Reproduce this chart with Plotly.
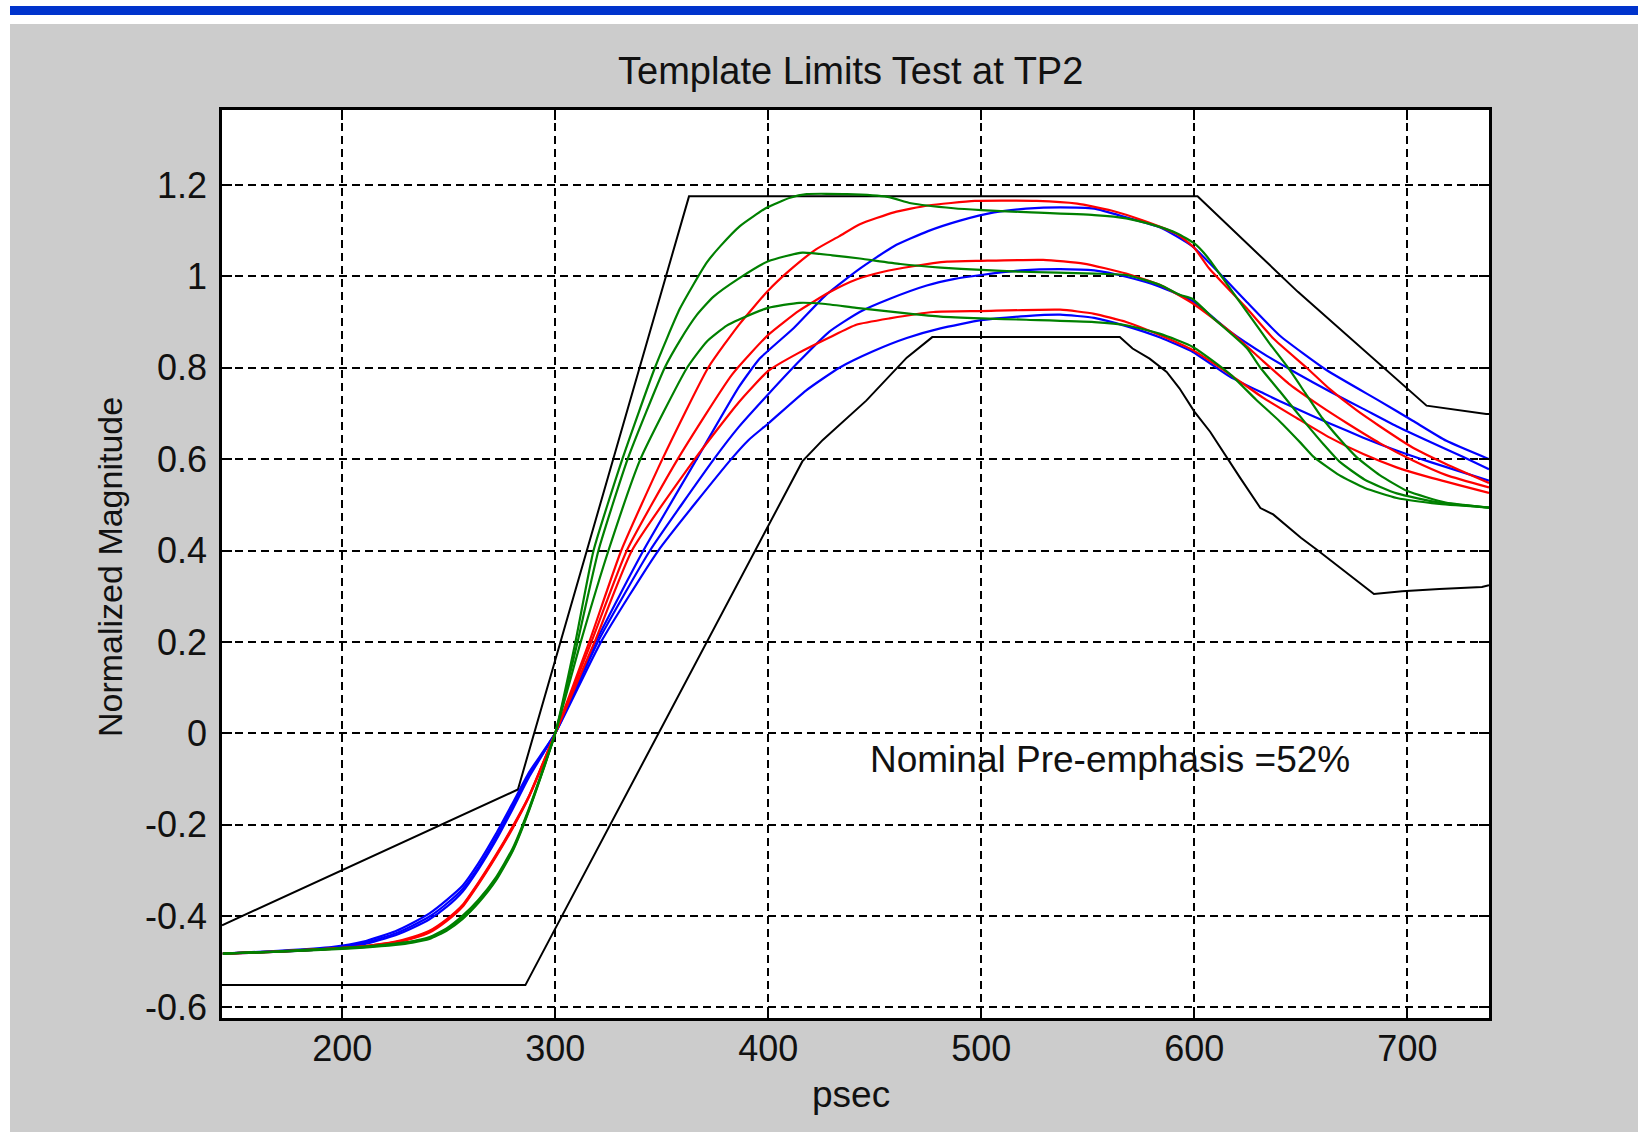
import plotly.graph_objects as go

# ---------------- data ----------------
UPPER_X = [143.6, 282.5, 362.8, 601.5, 648.6, 709.0, 737.0, 738.3]
UPPER_Y = [-0.42, -0.123, 1.175, 1.175, 0.966, 0.717, 0.699, 0.699]

LOWER_X = [143.6, 286, 416, 425.6, 446, 465, 477, 565, 571, 579, 587, 593, 600, 607.4,
           621.5, 631, 637, 650, 658, 684.3, 697.5, 715, 735, 738.3]
LOWER_Y = [-0.551, -0.551, 0.595, 0.642, 0.728, 0.822, 0.867, 0.867, 0.842, 0.82, 0.791, 0.755,
           0.704, 0.66, 0.559, 0.493, 0.479, 0.428, 0.40, 0.305, 0.311, 0.316, 0.32, 0.324]

G1_X = [144, 170, 195, 210, 225, 233, 241, 249, 256.6, 264, 272.2, 280, 287.8, 300, 309.5, 318,
        331.5, 346.8, 358.6, 371.1, 377.3, 386.7, 399.2, 410.2, 418, 437, 456, 467, 487, 500,
        518, 553, 568, 581, 592, 600, 606, 615, 625, 635, 644, 652, 660, 668, 676, 687, 700,
        718, 738.3]
G1_Y = [-0.482, -0.478, -0.473, -0.469, -0.463, -0.458, -0.45, -0.432, -0.406, -0.371, -0.322,
        -0.258, -0.168, 0.0, 0.2, 0.4, 0.6, 0.8, 0.93, 1.03, 1.065, 1.11, 1.15, 1.172, 1.18, 1.18,
        1.174, 1.16, 1.149, 1.145, 1.141, 1.134, 1.127, 1.112, 1.094, 1.072, 1.043, 0.985, 0.92,
        0.855, 0.80, 0.745, 0.69, 0.645, 0.605, 0.565, 0.53, 0.505, 0.494]

G2_X = [144, 170, 195, 210, 225, 233, 241, 249, 256.6, 264, 272.2, 280, 287.8, 300, 310.5,
        320.3, 334, 351.4, 358.6, 366.4, 374.2, 386.1, 400, 416, 430, 443, 462, 481, 500, 518.6,
        553, 568, 584, 593.4, 599, 609, 624.6, 631, 640, 652.7, 660.5, 668, 680, 695, 715, 738.3]
G2_Y = [-0.482, -0.478, -0.472, -0.468, -0.461, -0.456, -0.448, -0.43, -0.403, -0.368, -0.319,
        -0.256, -0.166, 0.0, 0.2, 0.4, 0.6, 0.8, 0.86, 0.915, 0.955, 0.995, 1.033, 1.052, 1.046,
        1.039, 1.027, 1.019, 1.014, 1.01, 1.006, 1.003, 0.981, 0.959, 0.951, 0.908, 0.843, 0.80,
        0.749, 0.676, 0.633, 0.595, 0.555, 0.525, 0.505, 0.494]

G3_X = [144, 170, 195, 210, 225, 233, 241, 249, 256.6, 264, 272.2, 280, 287.8, 300, 312, 325,
        340, 361.9, 371.1, 380.5, 386.1, 400, 414.5, 425.6, 441.3, 465, 480.8, 500, 521, 553,
        568, 584, 599.5, 617, 629, 640, 650, 656, 668, 680, 695, 715, 738.3]
G3_Y = [-0.482, -0.477, -0.471, -0.467, -0.46, -0.455, -0.446, -0.427, -0.399, -0.364, -0.315,
        -0.252, -0.163, 0.0, 0.2, 0.4, 0.6, 0.8, 0.857, 0.892, 0.905, 0.931, 0.942, 0.94, 0.931,
        0.919, 0.912, 0.908, 0.905, 0.900, 0.893, 0.874, 0.845, 0.785, 0.73, 0.683, 0.635, 0.605,
        0.565, 0.537, 0.515, 0.502, 0.494]

R1_X = [144, 170, 195, 210, 225, 233, 241, 249, 256.6, 264, 272.2, 280, 287.8, 300, 316, 331,
        350.3, 371.8, 386.4, 400, 410, 422.4, 433.4, 443, 459, 475, 497, 526, 545, 561, 576, 592,
        600, 607, 624.6, 637.1, 652.7, 663.6, 676.1, 687, 702.6, 718.3, 738.3]
R1_Y = [-0.482, -0.478, -0.472, -0.467, -0.458, -0.449, -0.436, -0.411, -0.379, -0.33, -0.27,
        -0.208, -0.138, 0.0, 0.2, 0.4, 0.6, 0.8, 0.895, 0.969, 1.013, 1.059, 1.088, 1.114, 1.14,
        1.155, 1.165, 1.165, 1.159, 1.144, 1.122, 1.092, 1.062, 1.017, 0.93, 0.864, 0.8, 0.753,
        0.707, 0.672, 0.625, 0.589, 0.548]

R2_X = [144, 170, 195, 210, 225, 233, 241, 249, 256.6, 264, 272.2, 280, 287.8, 300, 317, 333.6,
        357.5, 383, 400, 414.5, 428.7, 441.3, 454, 468, 484, 500, 529, 548, 568, 584, 599.5,
        616.8, 632.4, 644.9, 658.9, 671.5, 687, 702.6, 718.3, 738.3]
R2_Y = [-0.482, -0.478, -0.471, -0.466, -0.457, -0.448, -0.434, -0.409, -0.377, -0.328, -0.268,
        -0.206, -0.137, 0.0, 0.2, 0.4, 0.6, 0.785, 0.872, 0.925, 0.965, 0.993, 1.01, 1.022, 1.032,
        1.034, 1.036, 1.028, 1.006, 0.981, 0.94, 0.879, 0.814, 0.763, 0.717, 0.679, 0.635, 0.597,
        0.565, 0.538]

R3_X = [144, 170, 195, 210, 225, 233, 241, 249, 256.6, 264, 272.2, 280, 287.8, 300, 318.5, 336,
        365.5, 386.1, 400, 414.5, 428.7, 441.3, 457, 477.6, 500, 537, 553, 568, 584, 599.5,
        616.8, 632.4, 648, 663.6, 679.3, 694.9, 710.5, 738.3]
R3_Y = [-0.482, -0.477, -0.471, -0.466, -0.456, -0.446, -0.432, -0.407, -0.375, -0.326, -0.266,
        -0.204, -0.136, 0.0, 0.2, 0.4, 0.6, 0.724, 0.793, 0.833, 0.866, 0.894, 0.908, 0.922, 0.924,
        0.927, 0.918, 0.9, 0.871, 0.838, 0.785, 0.734, 0.69, 0.647, 0.611, 0.582, 0.56, 0.526]

B1_X = [144, 170, 195, 210, 225, 233, 241, 249, 256.6, 264, 272.2, 280, 287.8, 300, 319, 341.4,
        366.4, 386.1, 396, 412, 427, 443, 459, 475, 490, 506, 521, 537, 553, 568, 584, 599,
        624.6, 640.2, 662, 687, 702.5, 718.3, 738.3]
B1_Y = [-0.482, -0.478, -0.471, -0.462, -0.442, -0.426, -0.407, -0.38, -0.346, -0.297, -0.234,
        -0.166, -0.095, 0.0, 0.2, 0.4, 0.6, 0.757, 0.82, 0.887, 0.959, 1.017, 1.066, 1.099, 1.122,
        1.14, 1.148, 1.151, 1.148, 1.129, 1.107, 1.066, 0.944, 0.87, 0.795, 0.727, 0.684, 0.64,
        0.60]

B2_X = [144, 170, 195, 210, 225, 233, 241, 249, 256.6, 264, 272.2, 280, 287.8, 300, 320, 344.5,
        374.5, 386.1, 400, 414.5, 428.7, 442.9, 457.1, 474.4, 487, 500, 518.6, 537, 553, 568,
        584, 599.5, 616.8, 634, 648, 663.6, 679.3, 694.9, 710.5, 726, 738.3]
B2_Y = [-0.482, -0.477, -0.47, -0.459, -0.438, -0.421, -0.401, -0.373, -0.34, -0.292, -0.228,
        -0.16, -0.09, 0.0, 0.2, 0.4, 0.6, 0.67, 0.742, 0.814, 0.879, 0.922, 0.951, 0.98, 0.994,
        1.003, 1.013, 1.016, 1.013, 0.999, 0.977, 0.945, 0.879, 0.826, 0.788, 0.748, 0.71, 0.672,
        0.638, 0.605, 0.578]

B3_X = [144, 170, 195, 210, 225, 233, 241, 249, 256.6, 264, 272.2, 280, 287.8, 300, 321.5, 348.4,
        382.6, 390.8, 400, 417.7, 433.4, 449.2, 465, 480.8, 500, 521, 537, 553, 568, 584, 599.5,
        616.8, 632.4, 648, 663.6, 679.3, 694.9, 710.5, 738.3]
B3_Y = [-0.482, -0.476, -0.468, -0.456, -0.433, -0.415, -0.394, -0.365, -0.333, -0.284, -0.22,
        -0.153, -0.085, 0.0, 0.2, 0.4, 0.6, 0.642, 0.678, 0.75, 0.8, 0.836, 0.865, 0.886, 0.904,
        0.913, 0.916, 0.909, 0.891, 0.866, 0.834, 0.78, 0.744, 0.71, 0.678, 0.647, 0.619, 0.594,
        0.553]

X_TICKS = [200, 300, 400, 500, 600, 700]
Y_TICKS = [-0.6, -0.4, -0.2, 0, 0.2, 0.4, 0.6, 0.8, 1, 1.2]
Y_TICK_TEXT = ["-0.6", "-0.4", "-0.2", "0", "0.2", "0.4", "0.6", "0.8", "1", "1.2"]
X_RANGE = [143.6, 738.3]
Y_RANGE = [-0.623, 1.364]

TITLE = "Template Limits Test at TP2"
X_LABEL = "psec"
Y_LABEL = "Normalized Magnitude"
NOTE = "Nominal Pre-emphasis =52%"
NOTE_POS = (447, -0.058)

# ---------------- figure ----------------
FONT = "Liberation Sans, Arial, sans-serif"
GREEN = "rgb(0,128,0)"
RED = "rgb(255,0,0)"
BLUE = "rgb(0,0,255)"

fig = go.Figure()

for xs, ys in [(UPPER_X, UPPER_Y), (LOWER_X, LOWER_Y)]:
    fig.add_trace(go.Scatter(x=xs, y=ys, mode="lines",
                             line=dict(color="black", width=2), showlegend=False))

curves = [
    (B1_X, B1_Y, BLUE), (B2_X, B2_Y, BLUE), (B3_X, B3_Y, BLUE),
    (R1_X, R1_Y, RED), (R2_X, R2_Y, RED), (R3_X, R3_Y, RED),
    (G1_X, G1_Y, GREEN), (G2_X, G2_Y, GREEN), (G3_X, G3_Y, GREEN),
]
for xs, ys, c in curves:
    fig.add_trace(go.Scatter(x=xs, y=ys, mode="lines",
                             line=dict(color=c, width=2.2, shape="spline", smoothing=0.5),
                             showlegend=False))

axis_common = dict(
    showline=True, linecolor="black", linewidth=2.5, mirror="ticks",
    ticks="inside", ticklen=10, tickwidth=2, tickcolor="black",
    showgrid=True, gridcolor="black", gridwidth=2, griddash="8px,5px",
    zeroline=False, tickfont=dict(family=FONT, size=36, color="#111111"),
)

fig.update_xaxes(range=X_RANGE, tickvals=X_TICKS, ticktext=[str(v) for v in X_TICKS],
                 ticklabelstandoff=-3, **axis_common)
fig.update_yaxes(range=Y_RANGE, tickvals=Y_TICKS, ticktext=Y_TICK_TEXT,
                 ticklabelstandoff=5, **axis_common)

W, H = 1638, 1132
ML, MR, MT, MB = 222, 149, 110, 114
PW, PH = W - ML - MR, H - MT - MB


def px_x(px):
    return (px - ML) / PW


def px_y(py):
    return (H - MB - py) / PH


shapes = [
    # white strip at top and left
    dict(type="rect", xref="paper", yref="paper", x0=px_x(-5), x1=px_x(W + 5),
         y0=px_y(24), y1=px_y(-5), fillcolor="white", line=dict(width=0), layer="below"),
    dict(type="rect", xref="paper", yref="paper", x0=px_x(-5), x1=px_x(10),
         y0=px_y(H + 5), y1=px_y(-5), fillcolor="white", line=dict(width=0), layer="below"),
    # blue header bar
    dict(type="rect", xref="paper", yref="paper", x0=px_x(10), x1=px_x(W + 5),
         y0=px_y(15), y1=px_y(6), fillcolor="#0033cc", line=dict(width=0), layer="below"),
]

annotations = [
    dict(text=TITLE, xref="paper", yref="paper", x=px_x(850), y=px_y(71),
         xanchor="center", yanchor="middle", showarrow=False,
         font=dict(family=FONT, size=38, color="#111111")),
    dict(text=X_LABEL, xref="paper", yref="paper", x=px_x(851), y=px_y(1094),
         xanchor="center", yanchor="middle", showarrow=False,
         font=dict(family=FONT, size=37, color="#111111")),
    dict(text=Y_LABEL, xref="paper", yref="paper", x=px_x(110), y=px_y(567),
         xanchor="center", yanchor="middle", showarrow=False, textangle=-90,
         font=dict(family=FONT, size=34, color="#111111")),
    dict(text=NOTE, xref="x", yref="y", x=NOTE_POS[0], y=NOTE_POS[1],
         xanchor="left", yanchor="middle", showarrow=False,
         font=dict(family=FONT, size=37, color="#111111")),
]

fig.update_layout(
    width=W, height=H,
    margin=dict(l=ML, r=MR, t=MT, b=MB, pad=0),
    paper_bgcolor="rgb(204,204,204)", plot_bgcolor="white",
    shapes=shapes, annotations=annotations, showlegend=False,
    font=dict(family=FONT, color="#111111"),
)

fig.write_html("out.html")
